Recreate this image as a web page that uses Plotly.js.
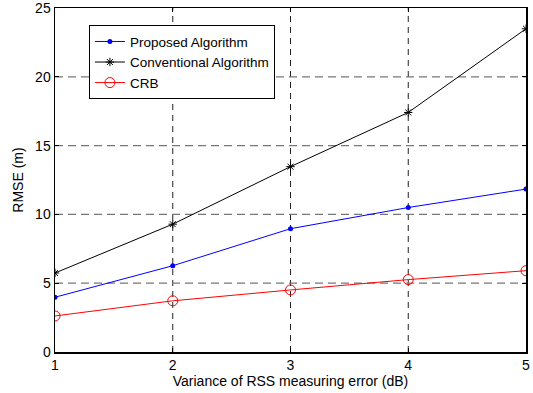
<!DOCTYPE html>
<html>
<head>
<meta charset="utf-8">
<script src="https://cdn.plot.ly/plotly-3.0.1.min.js"></script>
<style>html,body{margin:0;padding:0;background:#fff;}#chart{width:533px;height:393px;}</style>
</head>
<body>
<div id="chart"></div>
<script>
const variance = [1, 2, 3, 4, 5];
const proposed = [3.98, 6.27, 8.96, 10.5, 11.84];
const conventional = [5.74, 9.29, 13.47, 17.41, 23.49];
const crb = [2.62, 3.72, 4.51, 5.26, 5.91];
const xTicks = [1, 2, 3, 4, 5];
const yTicks = [0, 5, 10, 15, 20, 25];

const font = {family: 'Liberation Sans, Arial, sans-serif', size: 14, color: '#000'};

const traces = [
  {x: variance, y: proposed, name: 'Proposed Algorithm', mode: 'lines+markers',
   line: {color: '#0000ff', width: 1}, marker: {symbol: 'circle', size: 5, color: '#0000ff'}},
  {x: variance, y: conventional, name: 'Conventional Algorithm', mode: 'lines+markers',
   line: {color: '#000000', width: 1}, marker: {symbol: 'asterisk-open', size: 7, color: '#000', line: {color: '#000', width: 1}}},
  {x: variance, y: crb, name: 'CRB', mode: 'lines+markers',
   line: {color: '#ff0000', width: 1}, marker: {symbol: 'circle-open', size: 10, color: '#ff0000', line: {color: '#ff0000', width: 1}}}
];

const shapes = [];
xTicks.slice(1, -1).forEach(v => shapes.push({type: 'line', xref: 'x', yref: 'paper', x0: v, x1: v, y0: 0, y1: 1,
  line: {color: '#222', width: 1, dash: '6px,5px'}, layer: 'below'}));
yTicks.slice(1, -1).forEach(v => shapes.push({type: 'line', xref: 'paper', yref: 'y', x0: 0, x1: 1, y0: v, y1: v,
  line: {color: '#777', width: 1.3, dash: '8px,5px'}, layer: 'below'}));

const layout = {
  width: 533, height: 393,
  margin: {l: 55, r: 7, t: 8, b: 41},
  paper_bgcolor: '#fff', plot_bgcolor: '#fff',
  font: font,
  showlegend: true,
  legend: {x: 0.072, y: 0.95, xanchor: 'left', yanchor: 'top', bgcolor: '#fff',
           bordercolor: '#000', borderwidth: 1, font: {family: font.family, size: 13.5, color: '#000'},
           tracegroupgap: 0},
  xaxis: {range: [1, 5], tickvals: xTicks, ticks: 'inside', ticklen: 4, tickcolor: '#000',
          showline: true, linecolor: '#000', linewidth: 1.5, mirror: 'ticks', showgrid: false, zeroline: false,
          ticklabeloverflow: 'allow',
          title: {text: 'Variance of RSS measuring error (dB)', font: {size: 14}, standoff: 4},
          tickfont: {size: 14}},
  yaxis: {range: [0, 25], tickvals: yTicks, ticks: 'inside', ticklen: 4, tickcolor: '#000',
          showline: true, linecolor: '#000', linewidth: 1.5, mirror: 'ticks', showgrid: false, zeroline: false,
          ticklabeloverflow: 'allow',
          title: {text: 'RMSE (m)', font: {size: 14}, standoff: 8},
          tickfont: {size: 14}},
  shapes: shapes
};

Plotly.newPlot('chart', traces, layout, {displayModeBar: false, staticPlot: true});
</script>
</body>
</html>
